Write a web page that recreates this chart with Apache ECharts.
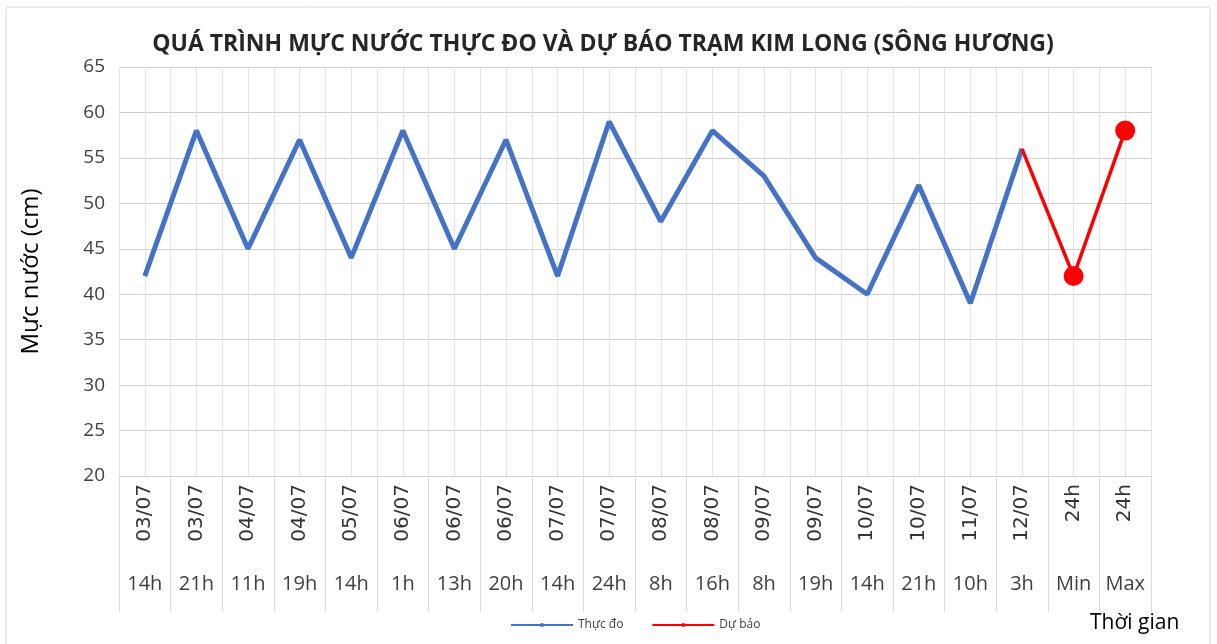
<!DOCTYPE html>
<html lang="vi">
<head>
<meta charset="utf-8" />
<title>Kim Long</title>
<script src="https://cdn.jsdelivr.net/npm/echarts@6/dist/echarts.min.js"></script>
<style>
  html, body { margin: 0; padding: 0; background: #fff; }
  #main { width: 1217px; height: 644px; }
</style>
</head>
<body>
<div id="main"></div>
<script type="text/javascript">
    // nhãn trục thời gian (2 tầng)
    var dates = ['03/07','03/07','04/07','04/07','05/07','06/07','06/07','06/07','07/07','07/07',
                 '08/07','08/07','09/07','09/07','10/07','10/07','11/07','12/07','24h','24h'];
    var hours = ['14h','21h','11h','19h','14h','1h','13h','20h','14h','24h',
                 '8h','16h','8h','19h','14h','21h','10h','3h','Min','Max'];
    // mực nước thực đo
    var measured = [42, 58, 45, 57, 44, 58, 45, 57, 42, 59, 48, 58, 53, 44, 40, 52, 39, 56, null, null];
    // dự báo
    var forecast = [null, null, null, null, null, null, null, null, null, null,
                    null, null, null, null, null, null, null, 56, 42, 58];
    var yTicks = { min: 20, max: 65, step: 5 };

    var font = 'Open Sans';
    var txt = '#404040';

    var myChart = echarts.init(document.getElementById('main'));

    var option = {
      animation: false,
      textStyle: { fontFamily: font },
      title: {
        text: 'QUÁ TRÌNH MỰC NƯỚC THỰC ĐO VÀ DỰ BÁO TRẠM KIM LONG (SÔNG HƯƠNG)',
        left: 598,
        textAlign: 'center',
        top: 28,
        textStyle: { fontSize: 23, fontWeight: 'bold', color: '#262626', fontFamily: font }
      },
      legend: {
        left: 505,
        top: 614,
        itemWidth: 62,
        itemHeight: 5,
        itemGap: 28,
        textStyle: { fontSize: 12, color: txt },
        data: ['Thực đo', 'Dự báo']
      },
      grid: { left: 119, right: 66, top: 67, bottom: 168 },
      xAxis: [
        {
          type: 'category',
          data: dates,
          boundaryGap: true,
          axisLine: { lineStyle: { color: '#d0d0d0' } },
          axisTick: { show: true, length: 136, interval: 0, lineStyle: { color: '#d9d9d9' } },
          axisLabel: { rotate: 90, interval: 0, margin: 8, fontSize: 20, color: '#333', fontFamily: 'DejaVu Sans' },
          splitLine: { show: false }
        },
        {
          type: 'category',
          data: hours,
          position: 'bottom',
          boundaryGap: true,
          axisLine: { show: false },
          axisTick: { show: false },
          axisLabel: { interval: 0, margin: 98, fontSize: 20, color: txt },
          splitLine: { show: false }
        },
        {
          // lưới dọc mỗi nửa ô
          type: 'value',
          min: 0,
          max: dates.length * 2,
          interval: 1,
          axisLine: { show: false },
          axisTick: { show: false },
          axisLabel: { show: false },
          splitLine: { show: true, lineStyle: { color: '#e3e3e3', width: 1 } }
        }
      ],
      yAxis: {
        type: 'value',
        min: yTicks.min,
        max: yTicks.max,
        interval: yTicks.step,
        name: 'Mực nước (cm)',
        nameLocation: 'middle',
        nameGap: 76,
        nameTextStyle: { fontSize: 24, color: '#000' },
        axisLine: { show: false },
        axisTick: { show: false },
        axisLabel: { fontSize: 19, color: txt, margin: 14 },
        splitLine: { lineStyle: { color: '#cfcfcf' } }
      },
      graphic: [
        {
          type: 'rect',
          shape: { x: 6, y: 7, width: 1204, height: 650, r: 3 },
          style: { fill: 'none', stroke: '#d6d6d6', lineWidth: 1 },
          silent: true
        },
        {
          type: 'text',
          left: 1090,
          top: 613,
          style: { text: 'Thời gian', fontSize: 21, fill: '#000', fontFamily: font }
        }
      ],
      series: [
        {
          name: 'Thực đo',
          type: 'line',
          data: measured,
          symbol: 'none',
          lineStyle: { color: '#4472C4', width: 5 },
          itemStyle: { color: '#4472C4' },
          z: 3
        },
        {
          name: 'Dự báo',
          type: 'line',
          data: forecast,
          symbol: 'circle',
          symbolSize: function (v, p) { return p.dataIndex >= 18 ? 20 : 0; },
          lineStyle: { color: '#FF0000', width: 3.5 },
          itemStyle: { color: '#FF0000' },
          z: 4
        }
      ]
    };
    myChart.setOption(option);
</script>
</body>
</html>
